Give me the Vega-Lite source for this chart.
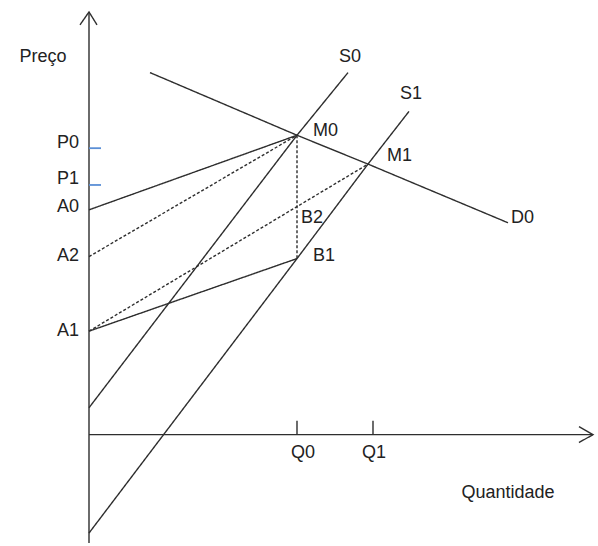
{
  "$schema": "https://vega.github.io/schema/vega-lite/v6.json",
  "width": 598,
  "height": 546,
  "padding": 0,
  "autosize": {"type": "fit", "contains": "padding"},
  "background": "white",
  "config": {"view": {"stroke": null}},
  "datasets": {
    "lines": [
      {"id": "yaxis", "o": 1, "q": 0, "p": -109, "style": "solid", "w": "axis"},
      {"id": "yaxis", "o": 2, "q": 0, "p": 425, "style": "solid", "w": "axis"},
      {"id": "yarrow", "o": 1, "q": -9, "p": 412, "style": "solid", "w": "axis"},
      {"id": "yarrow", "o": 2, "q": 0, "p": 425, "style": "solid", "w": "axis"},
      {"id": "yarrow", "o": 3, "q": 8, "p": 412, "style": "solid", "w": "axis"},
      {"id": "xaxis", "o": 1, "q": 0, "p": 0, "style": "solid", "w": "axis"},
      {"id": "xaxis", "o": 2, "q": 504, "p": 0, "style": "solid", "w": "axis"},
      {"id": "xarrow", "o": 1, "q": 490, "p": 8, "style": "solid", "w": "axis"},
      {"id": "xarrow", "o": 2, "q": 504, "p": 0, "style": "solid", "w": "axis"},
      {"id": "xarrow", "o": 3, "q": 490, "p": -8, "style": "solid", "w": "axis"},
      {"id": "tickQ0", "o": 1, "q": 208, "p": 0, "style": "solid", "w": "thin"},
      {"id": "tickQ0", "o": 2, "q": 208, "p": 14, "style": "solid", "w": "thin"},
      {"id": "tickQ1", "o": 1, "q": 284, "p": 0, "style": "solid", "w": "thin"},
      {"id": "tickQ1", "o": 2, "q": 284, "p": 14, "style": "solid", "w": "thin"},
      {"id": "D0", "o": 1, "q": 61, "p": 364, "style": "solid", "w": "thin"},
      {"id": "D0", "o": 2, "q": 208, "p": 301, "style": "solid", "w": "thin"},
      {"id": "D0", "o": 3, "q": 279, "p": 272, "style": "solid", "w": "thin"},
      {"id": "D0", "o": 4, "q": 419, "p": 213, "style": "solid", "w": "thin"},
      {"id": "S0", "o": 1, "q": 0, "p": 27, "style": "solid", "w": "thin"},
      {"id": "S0", "o": 2, "q": 208, "p": 301, "style": "solid", "w": "thin"},
      {"id": "S0", "o": 3, "q": 259, "p": 364, "style": "solid", "w": "thin"},
      {"id": "S1", "o": 1, "q": 0, "p": -99, "style": "solid", "w": "thin"},
      {"id": "S1", "o": 2, "q": 208, "p": 177, "style": "solid", "w": "thin"},
      {"id": "S1", "o": 3, "q": 279, "p": 272, "style": "solid", "w": "thin"},
      {"id": "S1", "o": 4, "q": 320, "p": 325, "style": "solid", "w": "thin"},
      {"id": "A0M0", "o": 1, "q": 0, "p": 226, "style": "solid", "w": "thin"},
      {"id": "A0M0", "o": 2, "q": 208, "p": 301, "style": "solid", "w": "thin"},
      {"id": "A2M0", "o": 1, "q": 0, "p": 179, "style": "dash", "w": "thin"},
      {"id": "A2M0", "o": 2, "q": 208, "p": 301, "style": "dash", "w": "thin"},
      {"id": "A1B1", "o": 1, "q": 0, "p": 104, "style": "solid", "w": "thin"},
      {"id": "A1B1", "o": 2, "q": 208, "p": 177, "style": "solid", "w": "thin"},
      {"id": "A1M1", "o": 1, "q": 0, "p": 104, "style": "dash", "w": "thin"},
      {"id": "A1M1", "o": 2, "q": 279, "p": 272, "style": "dash", "w": "thin"},
      {"id": "M0B1", "o": 1, "q": 208, "p": 301, "style": "dash", "w": "thin"},
      {"id": "M0B1", "o": 2, "q": 208, "p": 177, "style": "dash", "w": "thin"}
    ],
    "blue": [
      {"id": "P0", "o": 1, "q": 0, "p": 288},
      {"id": "P0", "o": 2, "q": 12, "p": 288},
      {"id": "P1", "o": 1, "q": 0, "p": 251},
      {"id": "P1", "o": 2, "q": 12, "p": 251}
    ],
    "labels": [
      {"t": "Preço", "q": -46, "p": 380, "a": "center"},
      {"t": "P0", "q": -10, "p": 293, "a": "right"},
      {"t": "P1", "q": -10, "p": 257, "a": "right"},
      {"t": "A0", "q": -10, "p": 229, "a": "right"},
      {"t": "A2", "q": -10, "p": 180, "a": "right"},
      {"t": "A1", "q": -10, "p": 104, "a": "right"},
      {"t": "M0", "q": 224, "p": 305, "a": "left"},
      {"t": "M1", "q": 298, "p": 280, "a": "left"},
      {"t": "B2", "q": 212, "p": 218, "a": "left"},
      {"t": "B1", "q": 224, "p": 180, "a": "left"},
      {"t": "D0", "q": 422, "p": 218, "a": "left"},
      {"t": "S0", "q": 261, "p": 380, "a": "center"},
      {"t": "S1", "q": 322, "p": 342, "a": "center"},
      {"t": "Q0", "q": 214, "p": -19, "a": "center"},
      {"t": "Q1", "q": 285, "p": -19, "a": "center"},
      {"t": "Quantidade", "q": 419, "p": -59, "a": "center"}
    ]
  },
  "encoding": {
    "x": {"field": "q", "type": "quantitative", "scale": {"domain": [-89, 509], "nice": false, "zero": false}, "axis": null},
    "y": {"field": "p", "type": "quantitative", "scale": {"domain": [-109, 437], "nice": false, "zero": false}, "axis": null}
  },
  "layer": [
    {
      "data": {"name": "lines"},
      "mark": {"type": "line", "color": "#2e2e2e", "strokeWidth": 1.4},
      "encoding": {
        "detail": {"field": "id"},
        "order": {"field": "o", "type": "quantitative"},
        "strokeDash": {"field": "style", "type": "nominal", "scale": {"domain": ["solid", "dash"], "range": [[1, 0], [3, 2]]}, "legend": null},
        "strokeWidth": {"field": "w", "type": "nominal", "scale": {"domain": ["axis", "thin"], "range": [1.8, 1.4]}, "legend": null}
      }
    },
    {
      "data": {"name": "blue"},
      "mark": {"type": "line", "color": "#5b8fd6", "strokeWidth": 1.8},
      "encoding": {
        "detail": {"field": "id"},
        "order": {"field": "o", "type": "quantitative"}
      }
    },
    {
      "data": {"name": "labels"},
      "transform": [{"filter": "datum.a === 'right'"}],
      "mark": {"type": "text", "align": "right", "baseline": "middle", "font": "Liberation Sans", "fontSize": 18, "letterSpacing": 1.5, "color": "#222222"},
      "encoding": {"text": {"field": "t"}}
    },
    {
      "data": {"name": "labels"},
      "transform": [{"filter": "datum.a === 'left'"}],
      "mark": {"type": "text", "align": "left", "baseline": "middle", "font": "Liberation Sans", "fontSize": 18, "letterSpacing": 1.5, "color": "#222222"},
      "encoding": {"text": {"field": "t"}}
    },
    {
      "data": {"name": "labels"},
      "transform": [{"filter": "datum.a === 'center'"}],
      "mark": {"type": "text", "align": "center", "baseline": "middle", "font": "Liberation Sans", "fontSize": 18, "letterSpacing": 1.5, "color": "#222222"},
      "encoding": {"text": {"field": "t"}}
    }
  ]
}
